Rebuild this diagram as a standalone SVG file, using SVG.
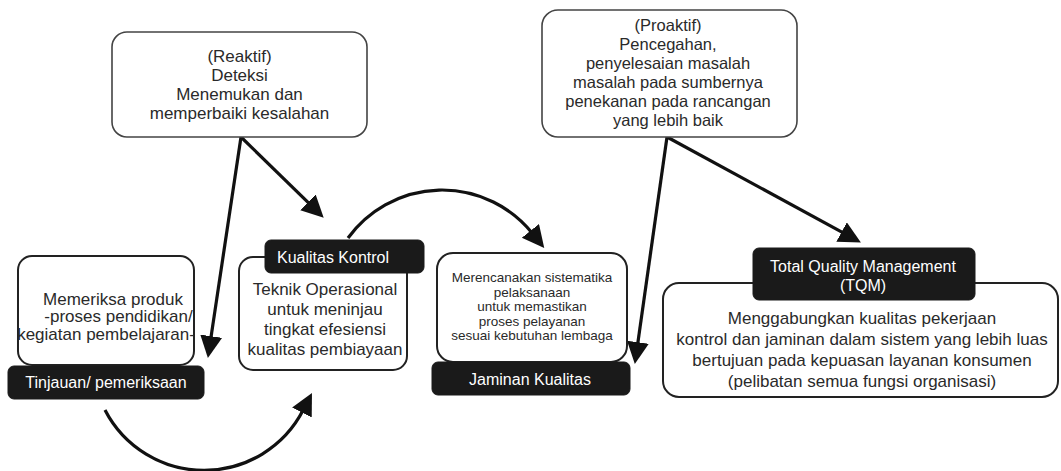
<svg xmlns="http://www.w3.org/2000/svg" width="1061" height="471" viewBox="0 0 1061 471">
<defs>
<style>
.box{fill:#fff;stroke:#222;stroke-width:2}
.tbox{fill:#fff;stroke:#444;stroke-width:1.6}
.lab{fill:#1a1a1a;stroke:#1a1a1a;stroke-width:1}
text{font-family:"Liberation Sans",Arial,sans-serif;fill:#2a2a2a;text-anchor:middle}
.w{fill:#fff;font-size:16px}
.t17{font-size:17px}
.t165{font-size:16.5px}
.t135{font-size:13.5px}
.conn{fill:none;stroke:#111;stroke-width:3.2}
</style>
<marker id="ah" markerUnits="userSpaceOnUse" markerWidth="24" markerHeight="24" viewBox="0 0 24 24" refX="3" refY="11" orient="auto">
<path d="M0,0 L22,11 L0,22 z" fill="#111"/>
</marker>
</defs>

<g id="connectors">
<path class="conn" d="M241,137 L310.1,204.4" marker-end="url(#ah)"/>
<path class="conn" d="M241,137 L210.7,339.2" marker-end="url(#ah)"/>
<path class="conn" d="M667,137 L844.2,233.4" marker-end="url(#ah)"/>
<path class="conn" d="M667,137 L637.5,345.2" marker-end="url(#ah)"/>
<path class="conn" d="M348,238 A116,116 0 0 1 532.3,233.2" marker-end="url(#ah)"/>
<path class="conn" d="M105,410 A111.5,111.5 0 0 0 303.3,409.8" marker-end="url(#ah)"/>
</g>

<g id="reaktif">
<rect class="tbox" x="112" y="32" width="255" height="105" rx="15"/>
<text class="t17" x="239.5" y="62">(Reaktif)</text>
<text class="t17" x="239.5" y="81">Deteksi</text>
<text class="t17" x="239.5" y="100">Menemukan dan</text>
<text class="t17" x="239.5" y="119">memperbaiki kesalahan</text>
</g>

<g id="proaktif">
<rect class="tbox" x="542" y="10" width="255" height="127" rx="16"/>
<text class="t165" x="668" y="31">(Proaktif)</text>
<text class="t165" x="668" y="50">Pencegahan,</text>
<text class="t165" x="668" y="69">penyelesaian masalah</text>
<text class="t165" x="668" y="88">masalah pada sumbernya</text>
<text class="t165" x="668" y="107">penekanan pada rancangan</text>
<text class="t165" x="668" y="126">yang lebih baik</text>
</g>

<g id="tinjauan">
<rect class="box" x="18" y="256" width="176" height="109" rx="14"/>
<text class="t17" x="113" y="305">Memeriksa produk</text>
<text class="t17" x="118.5" y="322">-proses pendidikan/</text>
<text class="t17" x="106" y="340">kegiatan pembelajaran-</text>
<rect class="lab" x="8" y="366" width="196" height="33" rx="6"/>
<text class="w" x="106" y="388">Tinjauan/ pemeriksaan</text>
</g>

<g id="kualitas-kontrol">
<rect class="box" x="239" y="257" width="168" height="113" rx="14"/>
<rect class="lab" x="265" y="240" width="159" height="33" rx="6"/>
<text class="w" x="333" y="263">Kualitas Kontrol</text>
<text class="t17" x="325" y="295">Teknik Operasional</text>
<text class="t17" x="325" y="315">untuk meninjau</text>
<text class="t17" x="325" y="335">tingkat efesiensi</text>
<text class="t17" x="325" y="355">kualitas pembiayaan</text>
</g>

<g id="jaminan-kualitas">
<rect class="box" x="437" y="253" width="190" height="109" rx="16"/>
<text class="t135" x="532" y="282">Merencanakan sistematika</text>
<text class="t135" x="532" y="296.5">pelaksanaan</text>
<text class="t135" x="532" y="311">untuk memastikan</text>
<text class="t135" x="532" y="325.5">proses pelayanan</text>
<text class="t135" x="532" y="340">sesuai kebutuhan lembaga</text>
<rect class="lab" x="432" y="362" width="198" height="33" rx="6"/>
<text class="w" x="530" y="385">Jaminan Kualitas</text>
</g>

<g id="tqm">
<rect class="box" x="663" y="283" width="395" height="114" rx="16"/>
<rect class="lab" x="753" y="248" width="222" height="52" rx="6"/>
<text class="w" x="863" y="272">Total Quality Management</text>
<text class="w" x="863" y="291">(TQM)</text>
<text class="t17" x="862" y="324">Menggabungkan kualitas pekerjaan</text>
<text class="t17" x="862" y="345">kontrol dan jaminan dalam sistem yang lebih luas</text>
<text class="t17" x="862" y="366">bertujuan pada kepuasan layanan konsumen</text>
<text class="t17" x="862" y="387">(pelibatan semua fungsi organisasi)</text>
</g>
</svg>
